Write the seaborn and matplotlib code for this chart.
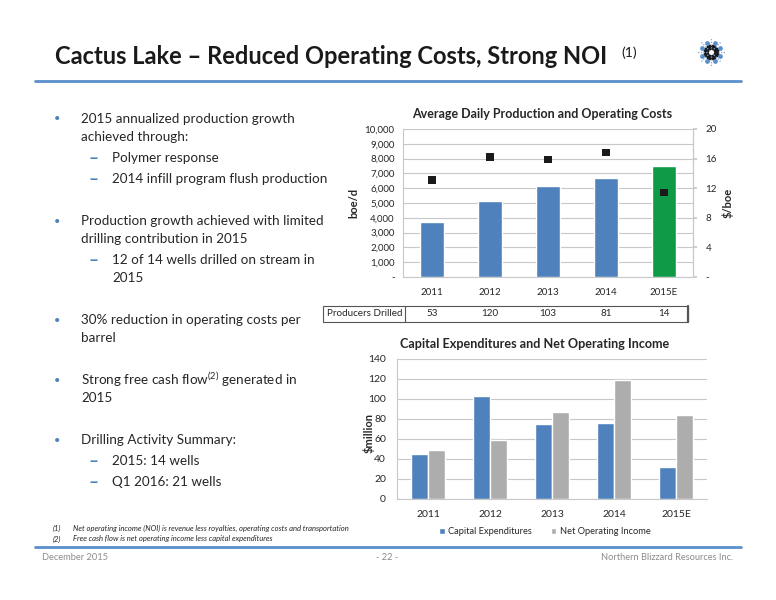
import numpy as np
import pandas as pd
import matplotlib
matplotlib.use("Agg")
import matplotlib.pyplot as plt
import seaborn as sns

# ---------------- data ----------------
years = ["2011", "2012", "2013", "2014", "2015E"]
production_boed = [3700, 5150, 6150, 6700, 7480]
opcost_per_boe = [13.1, 16.2, 15.9, 16.8, 11.4]
producers_drilled = [53, 120, 103, 81, 14]
capex = [45, 103, 75, 76, 32]
noi = [49, 59, 87, 119, 84]

left_ticks = [0, 1000, 2000, 3000, 4000, 5000, 6000, 7000, 8000, 9000, 10000]
left_tick_labels = ["-", "1,000", "2,000", "3,000", "4,000", "5,000", "6,000",
                    "7,000", "8,000", "9,000", "10,000"]
right_ticks = [0, 4, 8, 12, 16, 20]
right_tick_labels = ["-", "4", "8", "12", "16", "20"]
bottom_ticks = [0, 20, 40, 60, 80, 100, 120, 140]

BLUE = "#4F81BD"
GREEN = "#0F9A48"
GRAY = "#ADADAD"
GRID = "#C8C8C8"
TXT = "#262626"
LINEBLUE = "#5B8FCB"

sns.set_theme(style="white")
plt.rcParams["font.family"] = ["Lato", "DejaVu Sans"]
plt.rcParams["mathtext.default"] = "regular"

W, H = 776, 600
fig = plt.figure(figsize=(W / 100, H / 100), dpi=100)
fig.patch.set_facecolor("white")


def fx(px):
    return px / W


def fy(py):
    return 1 - py / H


def axes_px(l, t, r, b):
    return fig.add_axes([fx(l), fy(b), (r - l) / W, (b - t) / H])


# ---------------- header ----------------
fig.text(fx(55), fy(64), "Cactus Lake – Reduced Operating Costs, Strong NOI",
         fontsize=17, fontweight="bold", color="#1a1a1a", va="baseline", ha="left")
fig.text(fx(621), fy(53), "(1)", fontsize=10, color="#1a1a1a", va="center", ha="left")
fig.add_artist(plt.Line2D([fx(35), fx(741)], [fy(80.5), fy(80.5)], color=LINEBLUE, lw=2))

# logo (snowflake of dots)
lx, ly = 711, 52
for k in range(8):
    a = np.pi / 4 * k + np.pi / 8
    fig.add_artist(plt.Line2D([fx(lx + 5 * np.cos(a))], [fy(ly + 5 * np.sin(a))],
                              marker="o", ms=3.2, color="#1a1a1a", lw=0))
    fig.add_artist(plt.Line2D([fx(lx + 10 * np.cos(a))], [fy(ly + 10 * np.sin(a))],
                              marker="o", ms=2.4, color=LINEBLUE, lw=0))
    a2 = np.pi / 4 * k
    fig.add_artist(plt.Line2D([fx(lx + 4 * np.cos(a2)), fx(lx + 15 * np.cos(a2))],
                              [fy(ly + 4 * np.sin(a2)), fy(ly + 15 * np.sin(a2))],
                              color="#7FA7D9", lw=0.9, ls=(0, (1, 1.2))))

# ---------------- bullets ----------------
bullet_fs = 9.7
lines = [
    (119, 0, "2015 annualized production growth"),
    (137, None, "achieved through:"),
    (158, 1, "Polymer response"),
    (179, 1, "2014 infill program flush production"),
    (221, 0, "Production growth achieved with limited"),
    (239, None, "drilling contribution in 2015"),
    (260, 1, "12 of 14 wells drilled on stream in"),
    (278, 2, "2015"),
    (320, 0, "30% reduction in operating costs per"),
    (338, None, "barrel"),
    (380, 0, "Strong free cash flow$^{(2)}$ generated in"),
    (398, None, "2015"),
    (440, 0, "Drilling Activity Summary:"),
    (461, 1, "2015: 14 wells"),
    (482, 1, "Q1 2016: 21 wells"),
]
for y, lvl, t in lines:
    if lvl == 0:
        fig.text(fx(57), fy(y), "•", fontsize=8, color=BLUE, va="center", ha="center")
        fig.text(fx(81), fy(y), t, fontsize=bullet_fs, color=TXT, va="center")
    elif lvl is None:
        fig.text(fx(81), fy(y), t, fontsize=bullet_fs, color=TXT, va="center")
    elif lvl == 1:
        fig.text(fx(93), fy(y), "–", fontsize=12.5, fontweight="bold", color=BLUE,
                 va="center", ha="center")
        fig.text(fx(112), fy(y), t, fontsize=bullet_fs, color=TXT, va="center")
    else:
        fig.text(fx(112), fy(y), t, fontsize=bullet_fs, color=TXT, va="center")

# ---------------- top chart ----------------
ax1 = axes_px(403, 129, 693, 277)
df_top = pd.DataFrame({"year": years, "prod": production_boed})
sns.barplot(data=df_top, x="year", y="prod", hue="year",
            palette=[BLUE, BLUE, BLUE, BLUE, GREEN], width=0.4,
            legend=False, ax=ax1, zorder=3, saturation=1)
ax1.set_ylim(0, 10000)
ax1.set_xlim(-0.5, 4.5)
ax1.set_yticks(left_ticks)
ax1.set_yticklabels(left_tick_labels)
ax1.yaxis.grid(True, color=GRID, lw=0.8, zorder=0)
ax1.set_axisbelow(True)
ax1.set_xlabel("")
ax1.set_ylabel("boe/d", fontsize=8, fontweight="bold", color=TXT)
ax1.yaxis.set_label_coords((359 - 403) / 290, 0.5)
ax1.tick_params(axis="both", labelsize=7, colors=TXT, length=0, pad=6)
ax1.tick_params(axis="x", pad=8)
ax1.spines["top"].set_visible(False)
for s in ["left", "right", "bottom"]:
    ax1.spines[s].set_color(GRID)
    ax1.spines[s].set_linewidth(0.8)
ax1.set_title("Average Daily Production and Operating Costs", fontsize=9,
              fontweight="bold", color=TXT, pad=8, x=(542 - 403) / 290)

ax2 = ax1.twinx()
df_cost = pd.DataFrame({"x": np.arange(len(years)), "cost": opcost_per_boe})
sns.scatterplot(data=df_cost, x="x", y="cost", marker="s", color="#1a1a1a",
                s=30, edgecolor="none", ax=ax2, zorder=5)
ax2.set_ylim(0, 20)
ax2.set_xlim(-0.5, 4.5)
ax2.set_yticks(right_ticks)
ax2.set_yticklabels(right_tick_labels)
ax2.set_ylabel("$/boe", fontsize=8, fontweight="bold", color=TXT, rotation=90)
ax2.yaxis.set_label_coords((722 - 403) / 290, 0.5)
ax2.tick_params(axis="y", labelsize=7, colors=TXT, length=3, color=GRID, pad=6)
for s in ["top", "left", "bottom"]:
    ax2.spines[s].set_visible(False)
ax2.spines["right"].set_color(GRID)
ax2.spines["right"].set_linewidth(0.8)

# producers drilled table
tab_y = 314
trans = matplotlib.transforms.blended_transform_factory(ax1.transData, fig.transFigure)
fig.add_artist(plt.Rectangle((fx(323), fy(322)), (688 - 323) / W, 16 / H,
                             fill=False, ec="#555555", lw=0.8, transform=fig.transFigure))
fig.add_artist(plt.Line2D([fx(405), fx(405)], [fy(306), fy(322)], color="#555555", lw=0.8))
fig.add_artist(plt.Line2D([fx(688), fx(688)], [fy(306), fy(322)], color="#555555", lw=1.6))
fig.text(fx(327), fy(tab_y), "Producers Drilled", fontsize=7.1, color=TXT, va="center")
for i, v in enumerate(producers_drilled):
    fig.text(i, fy(tab_y), str(v), fontsize=7.1, color=TXT, va="center", ha="center",
             transform=trans)

# ---------------- bottom chart ----------------
ax3 = axes_px(397, 359, 707, 499)
df_bot = pd.DataFrame({
    "year": years * 2,
    "series": ["Capital Expenditures"] * len(years) + ["Net Operating Income"] * len(years),
    "value": capex + noi,
})
sns.barplot(data=df_bot, x="year", y="value", hue="series", palette=[BLUE, GRAY],
            width=0.56, ax=ax3, saturation=1, zorder=3)
ax3.set_ylim(0, 140)
ax3.set_xlim(-0.5, 4.5)
ax3.set_yticks(bottom_ticks)
ax3.yaxis.grid(True, color=GRID, lw=0.8)
ax3.set_axisbelow(True)
ax3.set_xlabel("")
ax3.set_ylabel("$million", fontsize=8, fontweight="bold", color=TXT)
ax3.yaxis.set_label_coords((375 - 397) / 310, 0.47)
ax3.tick_params(axis="both", labelsize=7.5, colors=TXT, length=0, pad=8)
ax3.tick_params(axis="x", pad=8)
ax3.spines["top"].set_visible(False)
ax3.spines["right"].set_visible(False)
for s in ["left", "bottom"]:
    ax3.spines[s].set_color(GRID)
    ax3.spines[s].set_linewidth(0.8)
ax3.set_title("Capital Expenditures and Net Operating Income", fontsize=9.1,
              fontweight="bold", color=TXT, pad=8, x=(535 - 397) / 310)
ax3.legend(loc="upper center", bbox_to_anchor=((545 - 397) / 310, -0.14), ncol=2,
           frameon=False, fontsize=6.7, handlelength=0.6, handleheight=0.6,
           handletextpad=0.4, columnspacing=2.0, labelcolor=TXT)

# ---------------- footer ----------------
fn = 5.5
fig.text(fx(53), fy(528), "(1)", fontsize=fn, style="italic", color=TXT, va="center")
fig.text(fx(73), fy(528),
         "Net operating income (NOI) is revenue less royalties, operating costs and transportation",
         fontsize=fn, style="italic", color=TXT, va="center")
fig.text(fx(53), fy(539), "(2)", fontsize=fn, style="italic", color=TXT, va="center")
fig.text(fx(73), fy(539), "Free cash flow is net operating income less capital expenditures",
         fontsize=fn, style="italic", color=TXT, va="center")
fig.add_artist(plt.Line2D([fx(35), fx(741)], [fy(547), fy(547)], color=LINEBLUE, lw=2))
fig.text(fx(42), fy(558), "December 2015", fontsize=6.7, color="#8C8C8C", va="center")
fig.text(fx(387), fy(558), "- 22 -", fontsize=6.7, color="#8C8C8C", va="center", ha="center")
fig.text(fx(733), fy(558), "Northern Blizzard Resources Inc.", fontsize=6.7,
         color="#8C8C8C", va="center", ha="right")

fig.savefig("out.png", dpi=100, facecolor="white")
